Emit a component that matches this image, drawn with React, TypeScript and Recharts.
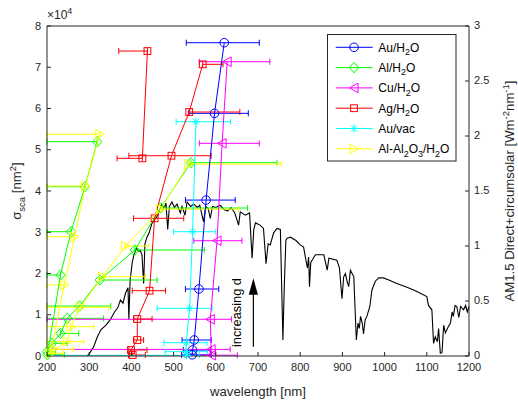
import React from "react";
import { ComposedChart, Scatter, Line, XAxis, YAxis, ErrorBar, Legend, ReferenceLine } from "recharts";

const W = 518;
const H = 402;
// axes take 1px each, so the plot box is 47..469 x 26..356
const M = { top: 25, right: 48, bottom: 45, left: 46 };
const AX = "#262626";
const FONT = "'Liberation Sans', Arial, Helvetica, sans-serif";
const X_MIN = 200;

const xTicks = [200, 300, 400, 500, 600, 700, 800, 900, 1000, 1100, 1200];
const leftTicks = [0, 10000, 20000, 30000, 40000, 50000, 60000, 70000, 80000];
const rightTicks = [0, 0.5, 1, 1.5, 2, 2.5, 3];

// Au/H2O
const auH2oX = [620, 597, 577, 560, 549, 545, 544];
const auH2oY = [75950, 58830, 37800, 16240, 3880, 1450, 300];
const auH2oLo = [90, 62, 49, 32, 29, 22, 25];
const auH2oHi = [83, 80, 69, 47, 40, 42, 45];

// Al/H2O
const alH2oX = [541, 469, 408, 325, 277, 248, 232, 212, 200, 201, 232, 257, 290, 319];
const alH2oY = [46860, 35870, 25690, 18420, 12120, 9140, 5490, 3070, 1050, 300, 19630, 30130, 41040, 51950];
const alH2oLo = [0, 0, 0, 0, 100, 60, 0, 0, 0, 0, 100, 100, 120, 140];
const alH2oHi = [204, 206, 165, 136, 74, 86, 43, 36, 20, 40, 0, 0, 0, 0];

// Cu/H2O
const cuH2oX = [627, 615, 603, 587, 589, 590];
const cuH2oY = [71340, 51560, 27950, 8900, 1600, 200];
const cuH2oLo = [66, 54, 55, 450, 450, 60];
const cuH2oHi = [101, 88, 59, 50, 45, 61];

// Ag/H2O
const agH2oX = [403, 399, 414, 414, 443, 455, 495, 537, 569];
const agH2oY = [240, 1450, 3880, 8970, 15830, 33380, 48550, 59150, 70710];
const agH2oLo = [10, 5, 9, 9, 41, 50, 101, 0, 0];
const agH2oHi = [30, 38, 15, 35, 38, 69, 94, 120, 48];
const agH2oTopX = [426, 438];
const agH2oTopY = [47920, 73930];
const agH2oTopLo = [60, 68];
const agH2oTopHi = [0, 0];

// Au/vac
const auVacX = [553, 545, 538, 530, 530, 531];
const auVacY = [56790, 30130, 11560, 3220, 1050, 150];
const auVacLo = [47, 45, 77, 53, 50, 400];
const auVacHi = [82, 55, 53, 49, 50, 30];

// Al-Al2O3/H2O
const alOxX = [536, 469, 386, 331, 279, 256, 248, 216, 208, 241, 265, 291, 325];
const alOxY = [46540, 35600, 26660, 19220, 11800, 7100, 3470, 1620, 650, 17210, 28920, 41210, 53740];
const alOxLo = [0, 0, 0, 0, 90, 60, 50, 20, 10, 100, 100, 110, 140];
const alOxHi = [219, 185, 54, 103, 67, 55, 39, 47, 30, 0, 0, 0, 0];

// AM1.5 direct+circumsolar spectrum
const specNm = [295, 300, 310, 320, 328, 340, 350, 360, 368, 374, 380, 386, 392, 394, 397, 402, 406, 412, 418, 421, 425, 429, 432, 437, 442, 448, 455, 461, 467, 472, 477, 482, 486, 490, 496, 502, 508, 516, 520, 527, 532, 540, 548, 556, 562, 571, 576, 582, 587, 592, 600, 610, 620, 628, 636, 645, 654, 658, 670, 680, 686, 690, 694, 705, 713, 719, 724, 729, 737, 745, 753, 759, 762, 766, 769, 777, 790, 800, 808, 817, 820, 822, 825, 836, 848, 856, 864, 868, 887, 893, 899, 903, 907, 911, 915, 919, 927, 933, 937, 940, 943, 947, 950, 954, 958, 965, 970, 978, 986, 997, 1010, 1029, 1050, 1069, 1085, 1100, 1104, 1112, 1116, 1120, 1125, 1128, 1132, 1136, 1140, 1144, 1150, 1156, 1160, 1163, 1167, 1171, 1176, 1180, 1187, 1192, 1196, 1200];
const specIrr = [0, 0.02, 0.08, 0.18, 0.24, 0.28, 0.33, 0.4, 0.44, 0.51, 0.48, 0.57, 0.62, 0.33, 0.69, 0.85, 0.92, 0.98, 0.95, 0.96, 0.92, 0.66, 1.02, 1.08, 1.12, 1.2, 1.24, 1.27, 1.32, 1.38, 1.34, 1.39, 1.15, 1.36, 1.4, 1.35, 1.38, 1.3, 1.36, 1.28, 1.4, 1.36, 1.38, 1.35, 1.37, 1.22, 1.36, 1.34, 1.25, 1.36, 1.35, 1.37, 1.33, 1.32, 1.35, 1.3, 1.19, 1.31, 1.28, 1.3, 0.89, 1.15, 1.21, 1.19, 1.16, 0.84, 1.02, 1.01, 1.12, 1.16, 1.15, 0.145, 0.6, 1.05, 1.07, 1.08, 1.05, 1.01, 0.99, 0.8, 0.9, 0.63, 0.85, 0.92, 0.92, 0.92, 0.78, 0.89, 0.87, 0.8, 0.52, 0.72, 0.75, 0.68, 0.63, 0.78, 0.72, 0.145, 0.3, 0.25, 0.36, 0.3, 0.2, 0.33, 0.36, 0.45, 0.6, 0.68, 0.71, 0.71, 0.69, 0.66, 0.63, 0.6, 0.57, 0.54, 0.46, 0.42, 0.115, 0.175, 0.13, 0.25, 0.025, 0.03, 0.28, 0.21, 0.26, 0.3, 0.4, 0.36, 0.46, 0.45, 0.35, 0.45, 0.42, 0.46, 0.4, 0.45];

// annotation arrow (wavelength, sigma)
const arrowNm = 689;
const arrowFrom = 2250;
const arrowTo = 18830;

const mk = (xs: number[], ys: number[], lo: number[], hi: number[]) =>
  xs.map((x, i) => ({ x, y: ys[i], ex: [Math.min(lo[i], x - X_MIN), hi[i]] }));

const spectrum = specNm.map((x, i) => ({ x, y: specIrr[i] }));

type Kind = "o" | "d" | "<" | "s" | "*" | ">";

const series: { name: string; color: string; kind: Kind; data: any[]; legend: boolean }[] = [
  { name: "Au/H2O", color: "#0000ff", kind: "o", data: mk(auH2oX, auH2oY, auH2oLo, auH2oHi), legend: true },
  { name: "Al/H2O", color: "#00ff00", kind: "d", data: mk(alH2oX, alH2oY, alH2oLo, alH2oHi), legend: true },
  { name: "Cu/H2O", color: "#ff00ff", kind: "<", data: mk(cuH2oX, cuH2oY, cuH2oLo, cuH2oHi), legend: true },
  { name: "Ag/H2O", color: "#ff0000", kind: "s", data: mk(agH2oX, agH2oY, agH2oLo, agH2oHi), legend: true },
  { name: "Ag/H2O top", color: "#ff0000", kind: "s", data: mk(agH2oTopX, agH2oTopY, agH2oTopLo, agH2oTopHi), legend: false },
  { name: "Au/vac", color: "#00ffff", kind: "*", data: mk(auVacX, auVacY, auVacLo, auVacHi), legend: true },
  { name: "Al-Al2O3/H2O", color: "#ffff00", kind: ">", data: mk(alOxX, alOxY, alOxLo, alOxHi), legend: true },
];

function Marker({ kind, cx, cy, color }: { kind: Kind; cx: number; cy: number; color: string }) {
  const p = { fill: "none", stroke: color, strokeWidth: 1 };
  if (cx == null || cy == null) return null;
  switch (kind) {
    case "o":
      return <circle cx={cx} cy={cy} r={4.3} {...p} />;
    case "d":
      return <polygon points={`${cx},${cy - 5.2} ${cx + 4.6},${cy} ${cx},${cy + 5.2} ${cx - 4.6},${cy}`} {...p} />;
    case "<":
      return <polygon points={`${cx - 4.6},${cy} ${cx + 4},${cy - 4.8} ${cx + 4},${cy + 4.8}`} {...p} />;
    case ">":
      return <polygon points={`${cx + 4.6},${cy} ${cx - 4},${cy - 4.8} ${cx - 4},${cy + 4.8}`} {...p} />;
    case "s":
      return <rect x={cx - 3.4} y={cy - 3.4} width={6.8} height={6.8} {...p} />;
    default:
      return (
        <path
          d={`M${cx - 4},${cy}h8M${cx},${cy - 4}v8M${cx - 2.9},${cy - 2.9}l5.8,5.8M${cx - 2.9},${cy + 2.9}l5.8,-5.8`}
          {...p}
        />
      );
  }
}

// label with chemical subscripts
function chem(name: string) {
  const parts = name.split(/(\d)/);
  return parts.map((t, i) =>
    /\d/.test(t) ? (
      <tspan key={i} dy={3.5} fontSize={9}>{t}</tspan>
    ) : i > 0 && /\d/.test(parts[i - 1]) ? (
      <tspan key={i} dy={-3.5}>{t}</tspan>
    ) : (
      <tspan key={i}>{t}</tspan>
    )
  );
}

function LegendBox() {
  const rows = series.filter((s) => s.legend);
  return (
    <svg width={131} height={129} style={{ display: "block" }}>
      <rect x={0.5} y={0.5} width={128.5} height={126.5} fill="#fff" stroke={AX} strokeWidth={1} />
      {rows.map((s, i) => {
        const y = 13.3 + i * 20.3;
        return (
          <g key={s.name}>
            <line x1={8.7} x2={45.7} y1={y} y2={y} stroke={s.color} strokeWidth={1} />
            <Marker kind={s.kind} cx={27} cy={y} color={s.color} />
            <text x={51.3} y={y + 4.3} fontSize={12} fontFamily={FONT} fill="#000">{chem(s.name)}</text>
          </g>
        );
      })}
    </svg>
  );
}

const TICK_FONT = 11;

const BottomTick = ({ x, payload }: any) => (
  <g>
    <line x1={x} x2={x} y1={356} y2={352} stroke={AX} />
    <text x={x} y={370.5} textAnchor="middle" fontSize={TICK_FONT} fontFamily={FONT} fill={AX}>{payload.value}</text>
  </g>
);
const TopTick = ({ x }: any) => <line x1={x} x2={x} y1={26} y2={30} stroke={AX} />;
const LeftTick = ({ y, payload }: any) => (
  <g>
    <line x1={47} x2={51} y1={y} y2={y} stroke={AX} />
    <text x={41} y={y + 3.6} textAnchor="end" fontSize={TICK_FONT} fontFamily={FONT} fill={AX}>{payload.value / 10000}</text>
  </g>
);
const RightTick = ({ y, payload }: any) => (
  <g>
    <line x1={469} x2={465} y1={y} y2={y} stroke={AX} />
    <text x={474} y={y + 3.3} textAnchor="start" fontSize={TICK_FONT} fontFamily={FONT} fill={AX}>{payload.value}</text>
  </g>
);

const plotCx = 258;
const plotCy = 191;

const XLabel = () => (
  <text x={plotCx} y={396} textAnchor="middle" fontSize={13.2} fontFamily={FONT} fill={AX}>wavelength [nm]</text>
);
const LeftLabel = () => (
  <g fontFamily={FONT} fill={AX}>
    <text x={47} y={19} fontSize={12}>
      ×10<tspan dy={-5} fontSize={9}>4</tspan>
    </text>
    <text transform="rotate(-90)" x={-plotCy} y={21} textAnchor="middle" fontSize={13.2}>
      σ<tspan dy={3.5} fontSize={9.5}>sca</tspan>
      <tspan dy={-3.5}> [nm</tspan>
      <tspan dy={-5} fontSize={9.5}>2</tspan>
      <tspan dy={5}>]</tspan>
    </text>
  </g>
);
const RightLabel = () => (
  <text transform="rotate(-90)" x={-plotCy} y={513.5} textAnchor="middle" fontSize={13.2} fontFamily={FONT} fill={AX}>
    AM1.5 Direct+circumsolar [Wm<tspan dy={-5} fontSize={9.5}>-2</tspan>
    <tspan dy={5}>nm</tspan>
    <tspan dy={-5} fontSize={9.5}>-1</tspan>
    <tspan dy={5}>]</tspan>
  </text>
);

const ArrowShape = (p: any) => {
  const { x1, y1, x2, y2 } = p;
  const bottom = Math.max(y1, y2);
  const top = Math.min(y1, y2);
  const mid = (bottom + top) / 2;
  return (
    <g>
      <line x1={x1} x2={x2} y1={bottom} y2={top + 14} stroke="#000" strokeWidth={1.2} />
      <polygon points={`${x1},${top} ${x1 - 4.6},${top + 16.5} ${x1 + 4.6},${top + 16.5}`} fill="#000" />
      <text
        transform={`rotate(-90 ${x1 - 12} ${mid})`}
        x={x1 - 12}
        y={mid}
        textAnchor="middle"
        fontSize={12.8}
        fontFamily={FONT}
        fill="#000"
      >
        increasing d
      </text>
    </g>
  );
};

export default function App() {
  return (
    <div style={{ position: "absolute", left: 0, top: 0, width: W, height: H, background: "#fff" }}>
      <ComposedChart width={W} height={H} margin={M}>
        <XAxis
          xAxisId="b"
          dataKey="x"
          type="number"
          domain={[200, 1200]}
          ticks={xTicks}
          interval={0}
          height={1}
          tickSize={0}
          tickMargin={0}
          tick={<BottomTick />}
          stroke={AX}
          label={<XLabel />}
        />
        <XAxis
          xAxisId="t"
          orientation="top"
          type="number"
          domain={[200, 1200]}
          ticks={xTicks}
          interval={0}
          height={1}
          tickSize={0}
          tickMargin={0}
          tick={<TopTick />}
          stroke={AX}
        />
        <YAxis
          yAxisId="l"
          dataKey="y"
          type="number"
          domain={[0, 80000]}
          ticks={leftTicks}
          interval={0}
          width={1}
          tickSize={0}
          tickMargin={0}
          tick={<LeftTick />}
          stroke={AX}
          label={<LeftLabel />}
        />
        <YAxis
          yAxisId="r"
          orientation="right"
          dataKey="y"
          type="number"
          domain={[0, 3]}
          ticks={rightTicks}
          interval={0}
          width={1}
          tickSize={0}
          tickMargin={0}
          tick={<RightTick />}
          stroke={AX}
          label={<RightLabel />}
        />
        <Line
          data={spectrum}
          dataKey="y"
          xAxisId="b"
          yAxisId="r"
          type="linear"
          stroke="#000"
          strokeWidth={1.1}
          dot={false}
          isAnimationActive={false}
        />
        {series.map((s) => (
          <Scatter
            key={s.name}
            name={s.name}
            data={s.data}
            xAxisId="b"
            yAxisId="l"
            fill={s.color}
            line={{ stroke: s.color, strokeWidth: 1 }}
            lineType="joint"
            lineJointType="linear"
            isAnimationActive={false}
            shape={(p: any) => <Marker kind={s.kind} cx={p.cx} cy={p.cy} color={s.color} />}
          >
            <ErrorBar dataKey="ex" direction="x" stroke={s.color} strokeWidth={1} width={3} isAnimationActive={false} />
          </Scatter>
        ))}
        <ReferenceLine
          xAxisId="b"
          yAxisId="l"
          segment={[
            { x: arrowNm, y: arrowFrom },
            { x: arrowNm, y: arrowTo },
          ]}
          stroke="#000"
          shape={(p: any) => <ArrowShape {...p} />}
        />
        <Legend
          layout="vertical"
          align="center"
          verticalAlign="middle"
          wrapperStyle={{ left: 327, top: 34, width: 131, height: 129 }}
          content={() => <LegendBox />}
        />
      </ComposedChart>
    </div>
  );
}
